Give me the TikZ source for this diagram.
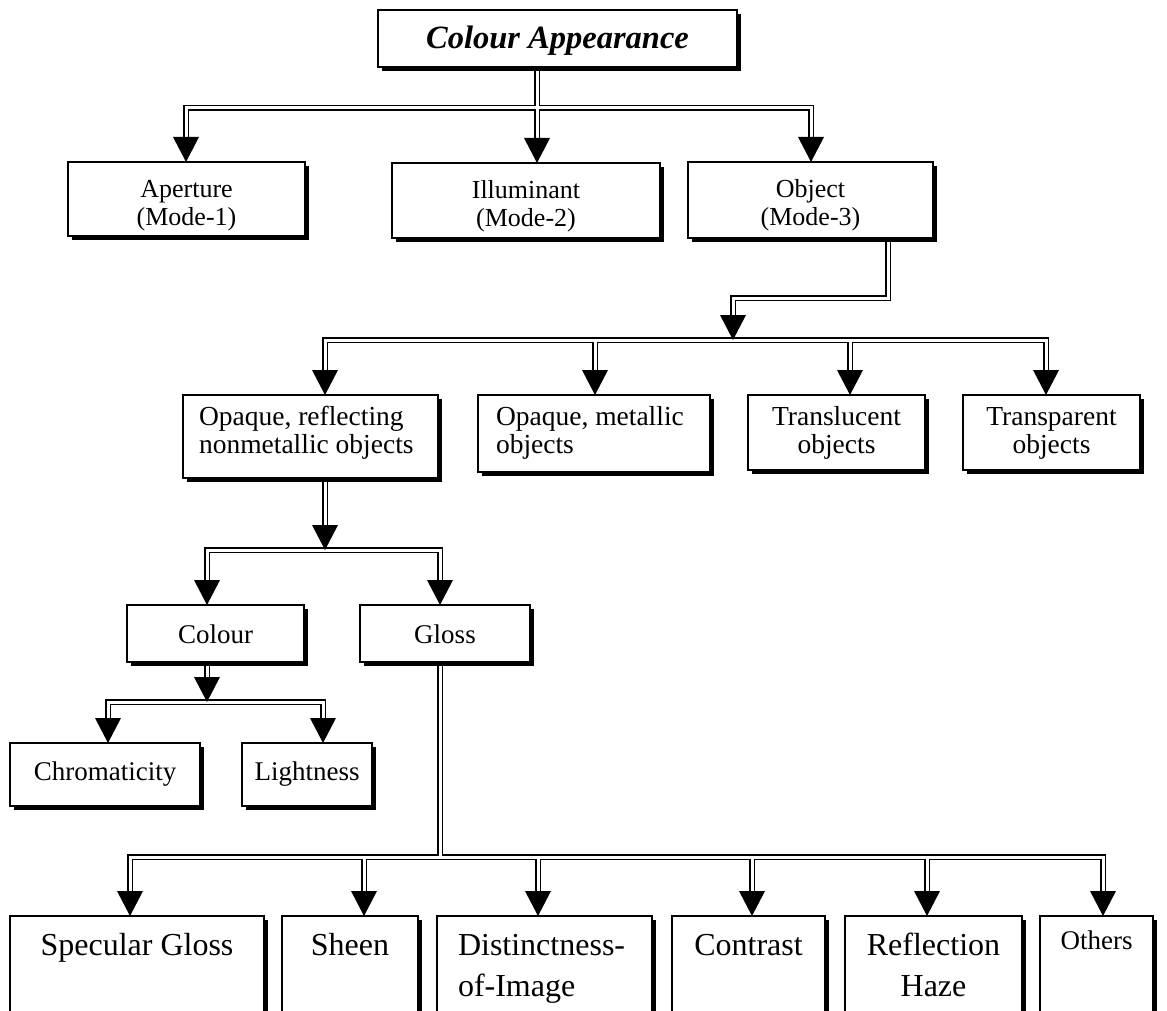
\documentclass[tikz,border=0pt]{standalone}
\usepackage{fontspec}
\setmainfont{Liberation Serif}
\usetikzlibrary{shadows,calc}
\pgfdeclarelayer{bg}
\pgfdeclarelayer{paper}
\pgfsetlayers{paper,bg,main}
\newcommand\mkbox[8]{%
  \pgfmathsetmacro\bw{#4-#2}%
  \pgfmathsetmacro\bh{#5-#3}%
  \node[box, minimum width=\bw pt, minimum height=\bh pt] (#1) at (#2,#3)
    {\parbox[t][\bh pt][t]{\bw pt}{#7\rule{0pt}{#6pt}#8}};}
\newcommand\tipat[1]{\fill (#1) -- ++(-13,-25) -- ++(26,0) -- cycle;}
\begin{document}
\begin{tikzpicture}[x=1pt,y=-1pt,
  box/.style={draw, fill=white, line width=1.6pt, inner sep=0pt, outer sep=0pt, anchor=north west,
     general shadow={fill=black, shadow xshift=4pt, shadow yshift=-4pt}},
  conn/.style={draw, double=white, double distance=3pt, line width=1.6pt, line join=miter, line cap=butt}]
\useasboundingbox (0,0) rectangle (1167,1011);
\clip (0,0) rectangle (1167,1011);
\begin{pgfonlayer}{paper}
\fill[white] (0,0) rectangle (1167,1011);
\end{pgfonlayer}

% boxes
\mkbox{top}{378}{10}{737}{67}{39}{\centering\fontsize{32.5}{36}\selectfont\bfseries\itshape}{Colour Appearance}
\mkbox{ap}{68}{162}{305}{236}{36}{\centering\fontsize{26}{28}\selectfont}{Aperture\\(Mode-1)}
\mkbox{il}{392}{163}{660}{238}{36}{\centering\fontsize{26}{28}\selectfont}{Illuminant\\(Mode-2)}
\mkbox{ob}{688}{162}{933}{238}{36}{\centering\fontsize{26}{28}\selectfont}{Object\\(Mode-3)}

\mkbox{opr}{183}{395}{438}{478}{30}{\leftskip=16pt\relax\fontsize{27.5}{28}\selectfont}{Opaque, reflecting\\nonmetallic objects}
\mkbox{om}{478}{395}{710}{472}{30}{\leftskip=18pt\relax\fontsize{27.5}{28}\selectfont}{Opaque, metallic\\objects}
\mkbox{tl}{748}{395}{925}{470}{30}{\centering\fontsize{27.5}{28}\selectfont}{Translucent\\objects}
\mkbox{tp}{963}{395}{1140}{470}{30}{\centering\fontsize{27.5}{28}\selectfont}{Transparent\\objects}

\mkbox{co}{127}{605}{304}{662}{38}{\centering\fontsize{27}{28}\selectfont}{Colour}
\mkbox{gl}{360}{605}{530}{662}{38}{\centering\fontsize{27}{28}\selectfont}{Gloss}

\mkbox{ch}{10}{743}{200}{806}{37}{\centering\fontsize{27}{28}\selectfont}{Chromaticity}
\mkbox{li}{242}{743}{372}{806}{37}{\centering\fontsize{27}{28}\selectfont}{Lightness}

\mkbox{sg}{10}{916}{264}{1060}{39}{\centering\fontsize{32}{41}\selectfont}{Specular Gloss}
\mkbox{sh}{282}{916}{418}{1060}{39}{\centering\fontsize{32}{41}\selectfont}{Sheen}
\mkbox{di}{437}{916}{652}{1060}{39}{\leftskip=21pt\relax\fontsize{32}{41}\selectfont}{Distinctness-\\of-Image}
\mkbox{ct}{672}{916}{825}{1060}{39}{\centering\fontsize{32}{41}\selectfont}{Contrast}
\mkbox{rh}{845}{916}{1022}{1060}{39}{\centering\fontsize{32}{41}\selectfont}{Reflection\\Haze}
\mkbox{ot}{1040}{916}{1153}{1060}{33}{\centering\fontsize{27}{30}\selectfont}{Others}

% junction coordinates
\coordinate (j1) at (537,108);
\coordinate (b1a) at (186,108);
\coordinate (b1c) at (811,108);
\coordinate (o2) at (888,298);
\coordinate (j2) at (733,340);
\coordinate (b2a) at (325,340);
\coordinate (b2b) at (595,340);
\coordinate (b2c) at (850,340);
\coordinate (b2d) at (1046,340);
\coordinate (j3) at (325,550);
\coordinate (b3a) at (207,550);
\coordinate (b3b) at (440,550);
\coordinate (j4) at (207,702);
\coordinate (b4a) at (108,702);
\coordinate (b4b) at (323,702);
\coordinate (j5) at (440,857);
\coordinate (b5a) at (130,857);
\coordinate (b5b) at (364,857);
\coordinate (b5c) at (538,857);
\coordinate (b5d) at (752,857);
\coordinate (b5e) at (927,857);
\coordinate (b5f) at (1103,857);

\begin{pgfonlayer}{bg}
\path[conn]
  (top.south -| j1) -- (j1)
  ($(ap.north -| b1a)+(0,-22)$) -- (b1a) -- (b1c) -- ($(ob.north -| b1c)+(0,-22)$)
  (j1) -- ($(il.north -| j1)+(0,-22)$)
  (ob.south -| o2) -- (o2) -| ($(j2)+(0,-22)$)
  ($(opr.north -| b2a)+(0,-22)$) -- (b2a) -- (b2d) -- ($(tp.north -| b2d)+(0,-22)$)
  (b2b) -- ($(om.north -| b2b)+(0,-22)$)
  (b2c) -- ($(tl.north -| b2c)+(0,-22)$)
  (opr.south -| j3) -- ($(j3)+(0,-22)$)
  ($(co.north -| b3a)+(0,-22)$) -- (b3a) -- (b3b) -- ($(gl.north -| b3b)+(0,-22)$)
  (co.south -| j4) -- ($(j4)+(0,-22)$)
  ($(ch.north -| b4a)+(0,-22)$) -- (b4a) -- (b4b) -- ($(li.north -| b4b)+(0,-22)$)
  (gl.south -| j5) -- (j5)
  ($(sg.north -| b5a)+(0,-22)$) -- (b5a) -- (b5f) -- ($(ot.north -| b5f)+(0,-22)$)
  (b5b) -- ($(sh.north -| b5b)+(0,-22)$)
  (b5c) -- ($(di.north -| b5c)+(0,-22)$)
  (b5d) -- ($(ct.north -| b5d)+(0,-22)$)
  (b5e) -- ($(rh.north -| b5e)+(0,-22)$);
\end{pgfonlayer}

% arrow tips
\tipat{ap.north -| b1a}
\tipat{il.north -| j1}
\tipat{ob.north -| b1c}
\tipat{j2}
\tipat{opr.north -| b2a}
\tipat{om.north -| b2b}
\tipat{tl.north -| b2c}
\tipat{tp.north -| b2d}
\tipat{j3}
\tipat{co.north -| b3a}
\tipat{gl.north -| b3b}
\tipat{j4}
\tipat{ch.north -| b4a}
\tipat{li.north -| b4b}
\tipat{sg.north -| b5a}
\tipat{sh.north -| b5b}
\tipat{di.north -| b5c}
\tipat{ct.north -| b5d}
\tipat{rh.north -| b5e}
\tipat{ot.north -| b5f}
\end{tikzpicture}
\end{document}
